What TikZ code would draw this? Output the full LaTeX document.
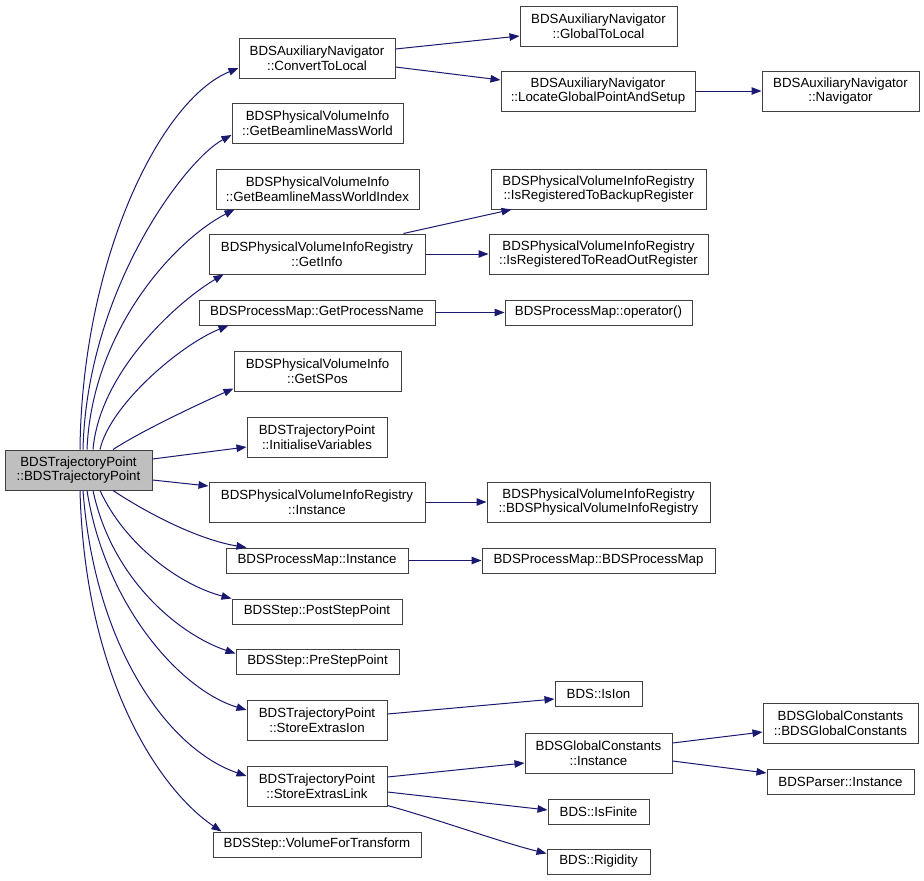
\documentclass[tikz,border=0pt]{standalone}
\usepackage{fontspec}
\setmainfont{Liberation Sans}
\usetikzlibrary{arrows.meta}
\definecolor{edgecol}{HTML}{191970}
\definecolor{boxcol}{HTML}{404040}
\definecolor{rootfill}{HTML}{BFBFBF}
\begin{document}
\begin{tikzpicture}[x=1pt,y=-1pt,
  box/.style={draw=boxcol,line width=1pt,fill=white,inner sep=0pt,align=center,
    font=\fontsize{13.3}{14.6}\selectfont,text=black},
  tall/.style={minimum height=40pt},
  short/.style={minimum height=25pt},
  rootbox/.style={box,fill=rootfill},
  edge/.style={draw=edgecol,line width=1pt,-{Triangle[length=10pt,width=7.5pt]}}]
\fill[white] (0,0) rectangle (924,881);
\useasboundingbox (0,0) rectangle (924,881);
% nodes
\node[rootbox,tall,minimum width=147pt] (root) at (78.5,470) {BDSTrajectoryPoint\\::BDSTrajectoryPoint};
\node[box,tall,minimum width=156pt] (ctl) at (317,58) {BDSAuxiliaryNavigator\\::ConvertToLocal};
\node[box,tall,minimum width=157pt] (g2l) at (598.5,26) {BDSAuxiliaryNavigator\\::GlobalToLocal};
\node[box,tall,minimum width=194pt] (loc) at (598,91) {BDSAuxiliaryNavigator\\::LocateGlobalPointAndSetup};
\node[box,tall,minimum width=157pt] (nav) at (840.5,91) {BDSAuxiliaryNavigator\\::Navigator};
\node[box,tall,minimum width=171pt] (gbmw) at (317.5,123) {BDSPhysicalVolumeInfo\\::GetBeamlineMassWorld};
\node[box,tall,minimum width=203pt] (gbmwi) at (317.5,189) {BDSPhysicalVolumeInfo\\::GetBeamlineMassWorldIndex};
\node[box,tall,minimum width=215pt] (bak) at (598.5,189) {BDSPhysicalVolumeInfoRegistry\\::IsRegisteredToBackupRegister};
\node[box,tall,minimum width=216pt] (gi) at (317,254) {BDSPhysicalVolumeInfoRegistry\\::GetInfo};
\node[box,tall,minimum width=219pt] (ro) at (598.5,254) {BDSPhysicalVolumeInfoRegistry\\::IsRegisteredToReadOutRegister};
\node[box,short,minimum width=236pt] (gpn) at (317,312.5) {BDSProcessMap::GetProcessName};
\node[box,short,minimum width=187pt] (op) at (598.5,312.5) {BDSProcessMap::operator()};
\node[box,tall,minimum width=167pt] (sp) at (317.5,371) {BDSPhysicalVolumeInfo\\::GetSPos};
\node[box,tall,minimum width=140pt] (iv) at (317,437) {BDSTrajectoryPoint\\::InitialiseVariables};
\node[box,tall,minimum width=216pt] (pvi) at (317,502) {BDSPhysicalVolumeInfoRegistry\\::Instance};
\node[box,tall,minimum width=223pt] (pvr) at (598.5,502) {BDSPhysicalVolumeInfoRegistry\\::BDSPhysicalVolumeInfoRegistry};
\node[box,short,minimum width=182pt] (pmi) at (317,560.5) {BDSProcessMap::Instance};
\node[box,short,minimum width=233pt] (pmc) at (598.5,560.5) {BDSProcessMap::BDSProcessMap};
\node[box,short,minimum width=170pt] (post) at (317,611.5) {BDSStep::PostStepPoint};
\node[box,short,minimum width=163pt] (pre) at (317.5,661.5) {BDSStep::PreStepPoint};
\node[box,tall,minimum width=140pt] (sei) at (317,720) {BDSTrajectoryPoint\\::StoreExtrasIon};
\node[box,short,minimum width=87pt] (ion) at (598.5,693.5) {BDS::IsIon};
\node[box,tall,minimum width=155pt] (gcc) at (840.5,723) {BDSGlobalConstants\\::BDSGlobalConstants};
\node[box,tall,minimum width=147pt] (gci) at (598.5,753) {BDSGlobalConstants\\::Instance};
\node[box,tall,minimum width=140pt] (sel) at (317,786) {BDSTrajectoryPoint\\::StoreExtrasLink};
\node[box,short,minimum width=147pt] (par) at (840.5,781.5) {BDSParser::Instance};
\node[box,short,minimum width=101pt] (fin) at (598.5,811.5) {BDS::IsFinite};
\node[box,short,minimum width=208pt] (vft) at (317,844.5) {BDSStep::VolumeForTransform};
\node[box,short,minimum width=103pt] (rig) at (598.5,861.5) {BDS::Rigidity};
% edges from root (top side)
\draw[edge] ([xshift=1.5pt]root.north) .. controls (82,260) and (160,100) .. ([yshift=-10pt]ctl.west);
\draw[edge] ([xshift=4.5pt]root.north) .. controls (87,290) and (185,160) .. ([yshift=-12pt]gbmw.west);
\draw[edge] ([xshift=8.5pt]root.north) .. controls (92,330) and (175,240) .. ([xshift=3pt]gbmw.south west |- gbmwi.south);
\draw[edge] ([xshift=14.5pt]root.north) .. controls (100,370) and (180,300) .. ([xshift=15pt]gi.south west);
\draw[edge] ([xshift=21.5pt]root.north) .. controls (110,405) and (180,345) .. ([xshift=30pt]gpn.south west);
\draw[edge] ([xshift=34.5pt]root.north) .. controls (140,432) and (190,408) .. ([yshift=3pt]sp.south west);
\draw[edge] ([yshift=11pt]root.east) -- ([yshift=-10pt]iv.west);
\draw[edge] ([yshift=-10pt]root.east) -- ([yshift=16pt]pvi.west);
% edges from root (bottom side)
\draw[edge] ([xshift=34.5pt]root.south) .. controls (150,515) and (200,540) .. ([xshift=21pt]pmi.north west);
\draw[edge] ([xshift=21.5pt]root.south) .. controls (125,545) and (180,585) .. (post.north west);
\draw[edge] ([xshift=14.5pt]root.south) .. controls (112,580) and (180,635) .. ([yshift=8pt]pre.west);
\draw[edge] ([xshift=8.5pt]root.south) .. controls (105,605) and (180,690) .. ([yshift=10pt]sei.west);
\draw[edge] ([xshift=4.5pt]root.south) .. controls (95,650) and (170,750) .. ([yshift=10pt]sel.west);
\draw[edge] ([xshift=1.5pt]root.south) .. controls (85,680) and (160,790) .. ([xshift=9pt]vft.north west);
% second level edges
\draw[edge] ([yshift=9pt]ctl.east) -- ([yshift=-10pt]g2l.west);
\draw[edge] ([yshift=-9pt]ctl.east) -- ([yshift=11pt]loc.west);
\draw[edge] (loc.east) -- (nav.west);
\draw[edge] ([xshift=-22pt]gi.north east) -- ([xshift=21pt]bak.south west);
\draw[edge] (gi.east) -- (ro.west);
\draw[edge] (gpn.east) -- (op.west);
\draw[edge] (pvi.east) -- (pvr.west);
\draw[edge] (pmi.east) -- (pmc.west);
\draw[edge] ([yshift=6pt]sei.east) -- ([yshift=-5.5pt]ion.west);
\draw[edge] ([yshift=9pt]sel.east) -- ([yshift=-10pt]gci.west);
\draw[edge] ([yshift=-6pt]sel.east) -- ([yshift=1.5pt]fin.west);
\draw[edge] ([yshift=1pt]sel.south east) .. controls (440,820) and (500,842) .. ([yshift=8pt]rig.west);
\draw[edge] ([yshift=10pt]gci.east) -- ([yshift=-9pt]gcc.west);
\draw[edge] ([yshift=-8pt]gci.east) -- ([yshift=8.5pt]par.west);
\end{tikzpicture}
\end{document}
